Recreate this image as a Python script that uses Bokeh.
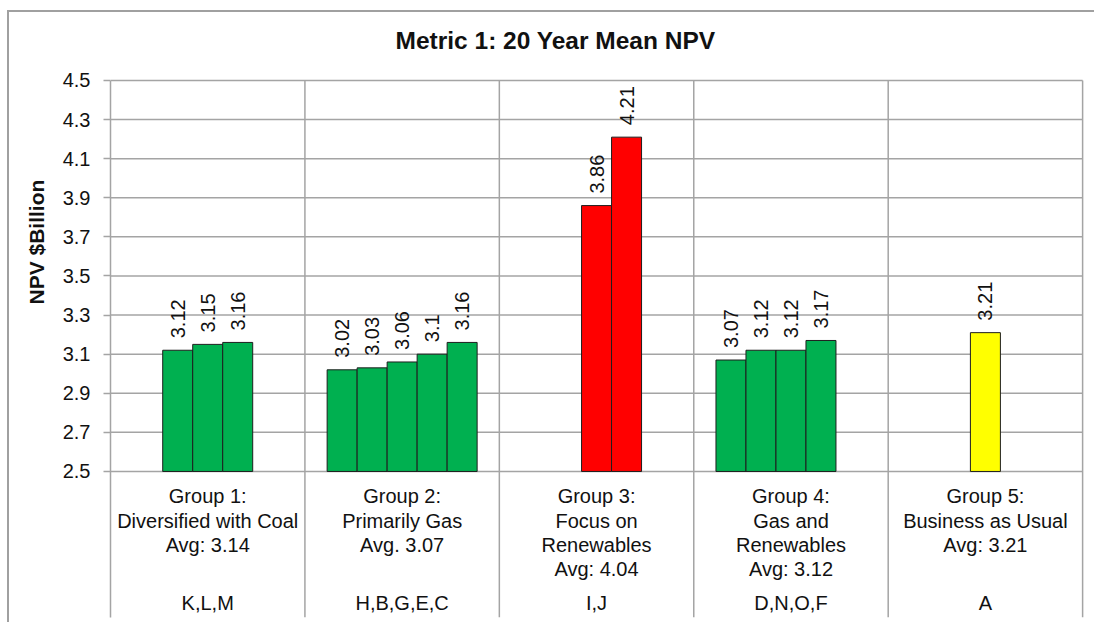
import numpy as np
from bokeh.plotting import figure
from bokeh.models import Range1d, FixedTicker, Title
from bokeh.embed import file_html
from bokeh.resources import INLINE
from bokeh.core.properties import value

# ---------------- data ----------------
chart_title = "Metric 1: 20 Year Mean NPV"
y_axis_title = "NPV $Billion"
group_labels = [
    "Group 1:\nDiversified with Coal\nAvg: 3.14",
    "Group 2:\nPrimarily Gas\nAvg. 3.07",
    "Group 3:\nFocus on\nRenewables\nAvg: 4.04",
    "Group 4:\nGas and\nRenewables\nAvg: 3.12",
    "Group 5:\nBusiness as Usual\nAvg: 3.21",
]
scenario_letters = ["K,L,M", "H,B,G,E,C", "I,J", "D,N,O,F", "A"]
group1_values = [3.12, 3.15, 3.16]
group2_values = [3.02, 3.03, 3.06, 3.1, 3.16]
group3_values = [3.86, 4.21]
group4_values = [3.07, 3.12, 3.12, 3.17]
group5_values = [3.21]
group_colors = ["#00B050", "#00B050", "#FF0000", "#00B050", "#FFFF00"]
first_slot = [1, 0, 2, 0, 2]          # slot of the first bar inside each 5-slot cluster
y_ticks = [2.5, 2.7, 2.9, 3.1, 3.3, 3.5, 3.7, 3.9, 4.1, 4.3, 4.5]

# ---------------- layout ----------------
FONT = value("Liberation Sans")
GRID = "#a4a4a4"
BAR_W = 0.1543
Y_BASE = 2.5
Y_MIN = 1.753
Y_MAX = 4.5
Y_TOP = 4.8476
N_GROUPS = 5

all_groups = [group1_values, group2_values, group3_values, group4_values, group5_values]
xs, tops, fills, texts = [], [], [], []
for g, vals in enumerate(all_groups):
    for i, v in enumerate(vals):
        xs.append(g + 0.5 + (first_slot[g] + i - 2) * BAR_W)
        tops.append(v)
        fills.append(group_colors[g])
        texts.append(f"{v:g}")

p = figure(frame_width=976, frame_height=605,
           x_range=Range1d(0, 5.02), y_range=Range1d(Y_MIN, Y_TOP),
           output_backend="svg", toolbar_location=None, x_axis_type=None,
           min_border_left=101, min_border_right=8, min_border_top=0, min_border_bottom=5)
p.styles = {"margin-left": "7px", "margin-top": "10px",
            "border-left": "2px solid #a0a0a0", "border-top": "2px solid #a0a0a0"}
p.outline_line_color = None
p.ygrid.visible = False

ax = p.yaxis[0]
ax.ticker = FixedTicker(ticks=y_ticks)
ax.bounds = (Y_MIN, Y_MAX)
ax.axis_line_color = GRID
ax.axis_line_width = 1.5
ax.major_tick_line_color = GRID
ax.major_tick_line_width = 1.5
ax.major_tick_in = 0
ax.major_tick_out = 7
ax.minor_tick_line_color = None
ax.major_label_text_font = "Liberation Sans"
ax.major_label_text_font_size = "20px"
ax.major_label_text_color = "#111111"
ax.major_label_standoff = 13

# y-axis title (placed as a left-side title so it can sit off-centre like the original)
p.add_layout(Title(text=y_axis_title, align="left", offset=313, standoff=24,
                   text_font="Liberation Sans", text_font_style="bold",
                   text_font_size="21px", text_color="#111111"), "left")

# chart title
p.text(x=[N_GROUPS / 2], y=[Y_MAX], text=[chart_title], x_offset=-41, y_offset=-40,
       text_align="center", text_baseline="middle", text_font=FONT,
       text_font_style="bold", text_font_size="24.5px", text_color="#111111")

# horizontal grid lines
p.segment(x0=[0] * len(y_ticks), x1=[N_GROUPS] * len(y_ticks), y0=y_ticks, y1=y_ticks,
          line_color=GRID, line_width=1.5)
# group separators (extend through the label table)
seps = list(range(1, N_GROUPS + 1))
p.segment(x0=seps, x1=seps, y0=[Y_MIN] * len(seps), y1=[Y_MAX] * len(seps),
          line_color=GRID, line_width=1.5)

# bars
p.vbar(x=xs, width=BAR_W, bottom=Y_BASE, top=tops, fill_color=fills,
       line_color="#1e1e1e", line_width=1)

# value labels
p.text(x=xs, y=tops, text=texts, angle=np.pi / 2, text_align="left",
       text_baseline="middle", y_offset=-12, text_font=FONT,
       text_font_size="20px", text_color="#111111")

centers = [g + 0.5 for g in range(N_GROUPS)]
p.text(x=centers, y=[Y_BASE] * N_GROUPS, text=group_labels, text_align="center",
       text_baseline="top", y_offset=14, text_line_height=1.1, text_font=FONT,
       text_font_size="20px", text_color="#111111")
p.text(x=centers, y=[Y_BASE] * N_GROUPS, text=scenario_letters, text_align="center",
       text_baseline="alphabetic", y_offset=132, text_font=FONT,
       text_font_size="20px", text_color="#111111")

open("out.html", "w").write(file_html(p, INLINE))
